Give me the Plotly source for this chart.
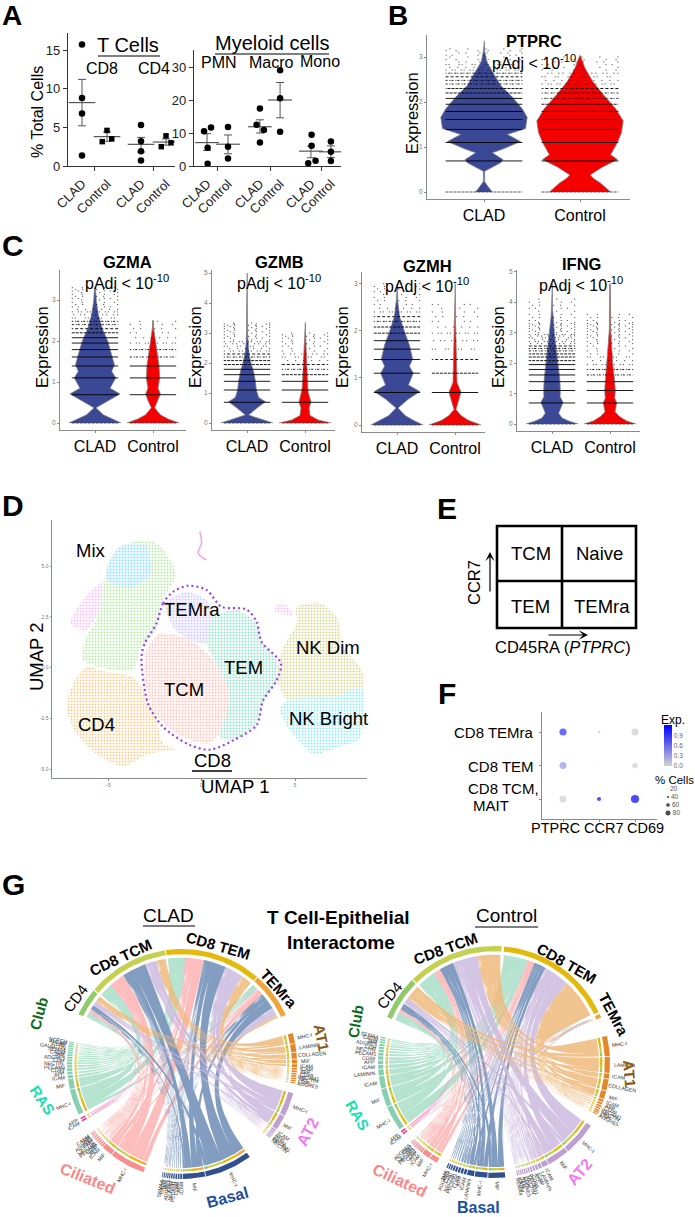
import math
import plotly.graph_objects as go

W, H = 695, 1217
FONT = "Liberation Sans"

# ---------- Panel A ----------
group_labels = ["CLAD", "Control"]
t_cd8_clad = [15.7, 8.8, 6.8, 1.35]
t_cd8_ctrl = [4.6, 3.15, 3.5]
t_cd4_clad = [5.3, 3.2, 1.9, 0.7]
t_cd4_ctrl = [3.9, 2.5, 3.0]
t_means = [8.2, 3.8, 2.8, 3.1]
t_low = [5.2, 3.2, 1.8, 2.7]
t_high = [11.2, 4.4, 3.7, 3.5]
pmn_clad = [10.5, 11.7, 5.5, 0.7]
pmn_ctrl = [11.8, 5.8, 2.3]
macro_clad = [17.4, 12.5, 10.9, 7.1]
macro_ctrl = [29.0, 20.5, 10.4]
mono_clad = [9.5, 6.1, 1.6, 0.8]
mono_ctrl = [7.4, 4.3, 1.5]
m_means = [7.1, 6.6, 11.9, 20.0, 4.5, 4.3]
m_low = [4.7, 3.7, 10.0, 14.6, 2.5, 2.6]
m_high = [9.8, 9.4, 14.0, 25.3, 6.0, 6.1]

# ---------- Violin profiles: expression, relative width ----------
ptprc_clad_y = [0, .12, .23, .33, .46, .65, .72, .87, .95, 1.12, 1.28, 1.41, 1.55, 1.66, 1.85, 2.11, 2.37, 2.67, 2.9, 3.12, 3.36]
ptprc_clad_w = [25, 12, 2, 1.5, 2, 50, 57, 25, 55, 110, 70, 125, 128, 130, 115, 85, 50, 25, 8, 2, 1]
ptprc_ctrl_y = [0, .2, .3, .38, .55, .72, .83, 1.1, 1.32, 1.58, 1.85, 2.15, 2.45, 2.75, 3.03]
ptprc_ctrl_w = [90, 60, 40, 30, 65, 110, 90, 110, 122, 127, 105, 70, 38, 15, 1]
gzma_clad_y = [0, .1, .2, .37, .57, .71, .85, 1.1, 1.26, 1.42, 1.67, 2.0, 2.3, 2.64, 2.97, 3.3]
gzma_clad_w = [78, 50, 25, 3, 45, 75, 45, 62, 50, 58, 50, 38, 22, 10, 4, 1.5]
gzma_ctrl_y = [0, .1, .2, .37, .55, .71, .85, 1.1, 1.4, 1.7, 2.0, 2.2, 2.3, 2.5]
gzma_ctrl_w = [78, 45, 22, 5, 15, 22, 15, 20, 18, 12, 6, 4, 2, 1]
gzmb_clad_y = [0, .1, .2, .27, .5, .71, .85, 1.1, 1.4, 1.7, 2.0, 2.3, 2.6, 3.0, 3.9, 5.0]
gzmb_clad_w = [78, 50, 22, 5, 30, 55, 35, 28, 25, 20, 12, 6, 3, 1.5, 1, .8]
gzmb_ctrl_y = [0, .1, .25, .5, .7, 1.0, 1.1, 1.5, 2.0, 2.5, 2.9, 3.35]
gzmb_ctrl_w = [78, 40, 15, 12, 18, 10, 9, 7, 5, 3, 2, 1]
gzmh_clad_y = [0, .1, .2, .36, .55, .71, .85, 1.1, 1.25, 1.4, 1.7, 2.0, 2.3, 2.65, 3.0]
gzmh_clad_w = [80, 50, 25, 3, 35, 70, 35, 50, 38, 48, 38, 22, 8, 2, 1]
gzmh_ctrl_y = [0, .1, .2, .33, .5, .7, .9, 1.1, 1.5, 2.0, 2.28, 3.0]
gzmh_ctrl_w = [78, 40, 18, 3, 10, 18, 6, 6, 4, 2.5, 1.5, .8]
ifng_clad_y = [0, .1, .2, .35, .5, .71, .9, 1.1, 1.5, 2.0, 2.5, 3.0, 3.5, 3.8, 4.6]
ifng_clad_w = [78, 50, 30, 20, 25, 33, 24, 25, 23, 18, 12, 7, 3, 1.5, 1]
ifng_ctrl_y = [0, .1, .25, .4, .7, .85, 1.1, 1.5, 2.0, 2.5, 3.1, 4.6]
ifng_ctrl_w = [78, 50, 28, 15, 20, 14, 16, 13, 8, 5, 2, 1]

# discrete expression values at which cells stack up
expression_levels = [.69, 1.10, 1.39, 1.61, 1.79, 1.95, 2.08, 2.20, 2.30, 2.40, 2.48, 2.56, 2.64, 2.71, 2.77,
                     2.83, 2.89, 2.94, 3.00, 3.04, 3.09, 3.14, 3.18, 3.22, 3.26, 3.30, 3.33, 3.40, 3.50,
                     3.60, 3.70, 3.80, 3.90, 4.00, 4.10]
# highest level that is drawn solid, dense, dashed, dotted, sparse
ptprc_clad_strip = (2.08, 2.30, 2.64, 2.83, 3.18)
ptprc_ctrl_strip = (1.79, 1.95, 2.30, 2.64, 3.00)
gzma_clad_strip = (2.08, 2.20, 2.48, 2.77, 3.30)
gzma_ctrl_strip = (1.39, 1.39, 1.79, 2.08, 2.48)
gzmb_clad_strip = (1.79, 2.08, 2.30, 2.71, 3.33)
gzmb_ctrl_strip = (1.39, 1.61, 1.95, 2.30, 3.00)
gzmh_clad_strip = (1.79, 2.08, 2.30, 2.48, 3.00)
gzmh_ctrl_strip = (.69, 1.10, 1.39, 2.08, 2.56)
ifng_clad_strip = (1.95, 2.30, 2.56, 2.94, 4.10)
ifng_ctrl_strip = (1.39, 1.39, 1.79, 2.20, 3.60)

# ---------- Panel D: cluster outlines in UMAP units ----------
cd4_u = [-7.23, -6.79, -6.16, -5.09, -3.66, -2.95, -2.41, -2.05, -1.34, -2.77, -4.2, -5.63, -6.7]
cd4_v = [-1.94, -.63, .03, -.21, -.46, -1.45, -2.43, -3.75, -4.0, -4.24, -4.87, -4.24, -3.26]
mix_u = [-3.66, -2.41, -1.34, -2.05, -2.41, -3.21, -3.66, -6.34, -6.16, -5.63, -5.27, -4.91]
mix_v = [6.2, 6.12, 4.64, 3.32, 1.84, 1.02, -.13, .36, 1.51, 2.34, 3.82, 5.3]
mixb_u = [-4.2, -2.95, -2.68, -3.84, -5.09, -4.73]
mixb_v = [6.04, 5.95, 4.64, 3.9, 4.39, 5.54]
mixp_u = [-7.02, -6.34, -5.27, -5.54, -6.16]
mixp_v = [2.17, 3.32, 4.23, 2.66, 1.84]
spur_u = [-.09, 0, -.18, .27]
spur_v = [6.7, 6.12, 5.63, 5.3]
nkp_u = [4.02, 4.55, 4.91, 3.93]
nkp_v = [3.08, 3.08, 2.58, 2.75]
tcm_u = [-2.23, -.63, .8, 1.52, .98, .27, -1.34, -2.59, -3.04, -2.95]
tcm_v = [1.68, 1.35, .2, -1.45, -3.26, -3.75, -3.26, -2.1, -.46, .86]
temra_u = [-1.96, -.79, .27, .63, .27, -.63, -1.52]
temra_v = [3.16, 3.73, 3.32, 2.5, 1.18, 1.35, 2.0]
tem_u = [.63, 1.88, 2.95, 3.3, 4.02, 4.02, 3.3, 2.95, 1.7, .98, 1.52, .8, .27]
tem_v = [2.5, 2.83, 2.17, 1.18, .36, -.63, -1.78, -2.76, -3.59, -3.42, -1.45, .2, 1.18]
nkd_u = [5.09, 6.34, 7.23, 7.59, 8.57, 8.57, 7.05, 4.55, 4.02, 4.38, 5.09]
nkd_v = [2.99, 3.19, 2.5, 1.02, -.13, -1.12, -1.45, -1.53, -.46, 1.02, 2.17]
nkb_u = [4.55, 7.05, 8.57, 8.66, 8.48, 7.41, 5.98, 4.73, 4.2]
nkb_v = [-1.61, -1.45, -.95, -1.94, -3.5, -3.91, -4.24, -3.09, -2.1]
cd8_u = [-2.41, -2.05, -1.52, -.71, .27, 1.07, 2.41, 2.95, 3.21, 4.25, 4.02, 3.3, 2.95, 1.7, .45, -.63, -2.05, -2.86, -3.21, -3.04, -2.41]
cd8_v = [2.17, 3.16, 3.73, 4.03, 3.82, 2.99, 2.86, 2.25, 1.27, .2, -.63, -1.61, -2.84, -3.59, -4.05, -3.82, -2.93, -1.78, .53, 1.18, 2.17]

# ---------- Panel F ----------
dot_genes = ["PTPRC", "CCR7", "CD69"]
dot_rows = ["TEMra", "TEM", "TCM"]
dot_exp = [[.95, .03, .03], [.35, 0, .02], [.02, 1.2, 1.2]]
dot_pct = [[72, 28, 72], [70, 10, 55], [70, 40, 82]]
legend_pct = [20, 40, 60, 80]

# ---------- Panel G ----------
small_pathways = ["ICAM", "APP", "CD99", "PECAM1", "NECTIN", "CDH", "ADGRE5", "JAM", "CADM", "SEMA4", "GALECTIN",
                  "CD86", "ALCAM", "NOTCH", "THBS"]
clad_at1_names = ["MHC-I", "LAMININ", "COLLAGEN", "MIF", "ICAM"]
clad_at1_sizes = [5.1, 4, 3, 2, 1.5, .9, .9, .8, .8, .7, .7, .6]
clad_at2_names = ["MHC-I", "MIF"]
clad_at2_sizes = [12, 7.5, .9, .8, .7, .6, .5]
clad_bas_names = ["MHC-I", "MIF"]
clad_bas_sizes = [24, 11.3, .9, .8, .8, .7, .7, .6, .6, .5, .5, .4]
clad_cil_names = ["MHC-I", "MIF"]
clad_cil_sizes = [18, 5.5, .9, .8, .7, .7, .6, .6, .5, .5, .4]
clad_oth_sizes = [.9, .8]
clad_ras_names = ["MHC-I", "MIF"]
clad_ras_sizes = [13, 5, 1.5, 1.4, 1.3, 1.2, 1.1, 1.0, .9, .9, .8, .8, .7, .7, .6, .5]
clad_cd4_flows = [3.5, 2.5, 3, 1.5, .2, 3]
clad_tcm_flows = [5, 6, 13, 8, .4, 7]
clad_tem_flows = [5.5, 10, 12, 9.5, .5, 9]
clad_tra_flows = [1.5, 4, 8.5, 3.5, .3, 3]

ctrl_at1_names = ["MHC-I", "LAMININ", "ICAM", "COLLAGEN", "MIF"]
ctrl_at1_sizes = [10, 8, 2.5, 5.5, 4, 1.2, 1, .9, .8, .7, .6, .5]
ctrl_at2_names = ["MHC-I", "MIF", "ICAM", "LAMININ"]
ctrl_at2_sizes = [17, 11, 3, 1.5, 1.2, 1, .9, .8, .7, .7, .6, .6, .5, .5]
ctrl_bas_names = ["MIF", "MHC-I", "LAMININ"]
ctrl_bas_sizes = [8.5, 6.3, 3.5, 1.3, 1.2, 1.1, 1, .9, .8, .7, .6]
ctrl_cil_names = ["MHC-I", "MIF"]
ctrl_cil_sizes = [4, 4.2, 1.1, .9, .8, .7, .6, .5, .4]
ctrl_oth_sizes = [.9, .9]
ctrl_ras_names = ["MHC-I", "MIF", "ICAM", "LAMININ"]
ctrl_ras_sizes = [12.5, 9, 6, 3, 2, 1.8, 1.6, 1.4, 1.2, 1.1, 1, .9, .8, .7]
ctrl_cd4_flows = [8, 3.5, 3.5, 1.5, .2, 4.5]
ctrl_tcm_flows = [11, 12, 7, 3, .3, 9]
ctrl_tem_flows = [21, 14, 6.5, 3.5, .3, 13]
ctrl_tra_flows = [.5, .3, .2, .1, .05, .2]

# ---------- figure helpers ----------
fig = go.Figure()
layout_axes = {}
ann = []
shapes = []
AX = "#8a8a8a"


def fx(x): return x / W
def fy(y): return 1 - y / H


def txt(x, y, s, size, color="black", bold=False, angle=0, anchor="center"):
    ann.append(dict(x=fx(x), y=fy(y), xref="paper", yref="paper", text=f"<b>{s}</b>" if bold else s,
                    showarrow=False, xanchor=anchor, yanchor="middle", textangle=angle,
                    font=dict(family=FONT, size=size, color=color)))


def line(x0, y0, x1, y1, width=1.2, color="black"):
    shapes.append(dict(type="line", xref="paper", yref="paper", x0=fx(x0), y0=fy(y0), x1=fx(x1), y1=fy(y1),
                       line=dict(width=width, color=color)))


def arrow(x0, y0, x1, y1):
    ann.append(dict(x=fx(x1), y=fy(y1), xref="paper", yref="paper", ax=x0 - x1, ay=y0 - y1, axref="pixel", ayref="pixel",
                    text="", showarrow=True, arrowhead=3, arrowsize=1.3, arrowwidth=1.2, arrowcolor="black"))


def make_axes(i, l, r, t, b, xa, ya, xopt=None, yopt=None):
    sx = (xa[3] - xa[1]) / (xa[2] - xa[0])
    sy = (ya[3] - ya[1]) / (ya[2] - ya[0])
    base = dict(showgrid=False, zeroline=False, showline=False, showticklabels=False, ticks="", fixedrange=True)
    xd = dict(base, domain=[fx(l), fx(r)], range=[xa[1] + (l - xa[0]) * sx, xa[1] + (r - xa[0]) * sx], anchor=f"y{i}")
    yd = dict(base, domain=[fy(b), fy(t)], range=[ya[1] + (b - ya[0]) * sy, ya[1] + (t - ya[0]) * sy], anchor=f"x{i}")
    xd.update(xopt or {})
    yd.update(yopt or {})
    layout_axes[f"xaxis{i}"] = xd
    layout_axes[f"yaxis{i}"] = yd
    return dict(xaxis=f"x{i}", yaxis=f"y{i}")


def axis_style(size, color="black", **kw):
    return dict(showline=True, linecolor=AX, linewidth=1, showticklabels=True,
                tickfont=dict(family=FONT, size=size, color=color), **kw)


# ---------- Panel A ----------
ab = dict(showline=True, linecolor="#333", linewidth=1.3, showticklabels=True, ticks="outside", tickcolor="#333", ticklen=4,
          tickfont=dict(family=FONT, size=13, color="#222"))
a1 = make_axes(2, 68, 175, 33, 166, (82, 0, 107, 1), (166, 0, 50, 15),
               dict(ab, tickvals=[0, 1, 2.36, 3.36], ticktext=group_labels * 2, tickangle=-45, tickcolor="rgba(0,0,0,0)",
                    minor=dict(tickvals=[.5, 2.86], ticklen=4, tickcolor="#333", ticks="outside")),
               dict(ab, tickvals=[0, 5, 10, 15]))
a2 = make_axes(3, 194, 341, 50, 166, (207, 0, 228, 1), (166, 0, 67, 30),
               dict(ab, tickvals=[0, 1, 2.52, 3.48, 4.95, 5.9], ticktext=group_labels * 3, tickangle=-45, tickcolor="rgba(0,0,0,0)",
                    minor=dict(tickvals=[.5, 3, 5.43], ticklen=4, tickcolor="#333", ticks="outside")),
               dict(ab, tickvals=[0, 10, 20, 30]))


def points(ax, xs, ys, sym):
    fig.add_trace(go.Scatter(x=xs, y=ys, mode="markers", marker=dict(color="black", size=6.5 if sym == "circle" else 5.5, symbol=sym),
                             showlegend=False, **ax))


def summary(ax, xs, means, low, high, w=19, color="#555"):
    fig.add_trace(go.Scatter(x=xs, y=means, mode="markers", marker=dict(symbol="line-ew", size=w, line=dict(width=1.2, color=color)),
                             error_y=dict(type="data", symmetric=False, array=[h - m for h, m in zip(high, means)],
                                          arrayminus=[m - l for l, m in zip(low, means)], color=color, width=4, thickness=1),
                             showlegend=False, **ax))


tx = [0, 1, 2.36, 3.36]
summary(a1, tx, t_means, t_low, t_high)
points(a1, [0, 0, 0, 0], t_cd8_clad, "circle")
points(a1, [1, .81, 1.19], t_cd8_ctrl, "square")
points(a1, [2.36] * 4, t_cd4_clad, "circle")
points(a1, [3.36, 3.17, 3.56], t_cd4_ctrl, "square")
mx = [0, 1, 2.52, 3.48, 4.95, 5.9]
summary(a2, mx, m_means, m_low, m_high, w=17)
points(a2, [-.14, .19, .03, .03], pmn_clad, "circle")
points(a2, [1, 1, 1], pmn_ctrl, "circle")
points(a2, [2.52, 2.36, 2.71, 2.52], macro_clad, "circle")
points(a2, [3.48, 3.48, 3.48], macro_ctrl, "circle")
points(a2, [4.98, 4.98, 5.17, 4.82], mono_clad, "circle")
points(a2, [5.9, 5.9, 5.9], mono_ctrl, "circle")

txt(128, 45, "T Cells", 20)
line(98, 56, 160, 56)
txt(102, 69, "CD8", 16)
txt(154, 69, "CD4", 16)
txt(272, 43, "Myeloid cells", 20)
line(215, 54, 329, 54)
txt(219, 63, "PMN", 16)
txt(271, 62, "Macro", 16)
txt(320, 61, "Mono", 16)
txt(38, 112, "% Total Cells", 16, angle=-90)


# ---------- Violins ----------
def violin_axes(i, l, r, t, b, c1, c2, y0, yp, yv, ticks):
    return make_axes(i, l, r, t, b, (c1, 1, c2, 2), (y0, 0, yp, yv),
                     dict(axis_style(16), tickvals=[1, 2], ticktext=group_labels, ticks="outside", ticklen=2, tickcolor=AX),
                     dict(axis_style(6.5, "#777"), tickvals=ticks, ticks="outside", ticklen=2, tickcolor=AX))


def violin(ax, c, ys, ws, color, strip):
    m = max(ws)
    half = [w / m * .45 for w in ws]
    fig.add_trace(go.Scatter(x=[c - h for h in half] + [c + h for h in reversed(half)], y=list(ys) + list(reversed(ys)),
                             mode="lines", fill="toself", fillcolor=color, showlegend=False,
                             line=dict(color="rgba(130,130,130,.75)", width=1), **ax))
    patterns = [["solid"], ["3px,1px"], ["2px,2px,1px,1px", "1px,2px,2px,1px", "3px,2px"],
                ["1px,3px,1px,6px", "1px,5px,1px,2px", "1px,7px", "1px,2px,1px,9px"],
                ["1px,13px,1px,6px", "1px,9px,1px,21px", "1px,17px", "1px,5px,1px,25px"]]
    idx = 0
    for lv in expression_levels:
        for k, lim in enumerate(strip):
            if lv <= lim:
                fig.add_trace(go.Scatter(x=[c - .4, c + .4] if idx % 2 else [c + .4, c - .4], y=[lv, lv], mode="lines", showlegend=False,
                                         line=dict(color="black", width=.9 if k < 3 else .8, dash=patterns[k][idx % len(patterns[k])]), **ax))
                idx += 1
                break
    fig.add_trace(go.Scatter(x=[c - .4, c + .4], y=[0, 0], mode="lines", showlegend=False,
                             line=dict(color="#444", width=.9, dash="3px,1px"), **ax))


BLUE, RED = "#3a4896", "#f40000"
vb = violin_axes(4, 427, 630, 35, 199, 484, 580, 192, 57, 3, [0, 1, 2, 3])
violin(vb, 1, ptprc_clad_y, ptprc_clad_w, BLUE, ptprc_clad_strip)
violin(vb, 2, ptprc_ctrl_y, ptprc_ctrl_w, RED, ptprc_ctrl_strip)
v1 = violin_axes(5, 60, 186, 270, 430, 95, 153, 423, 300, 3, [0, 1, 2, 3])
violin(v1, 1, gzma_clad_y, gzma_clad_w, BLUE, gzma_clad_strip)
violin(v1, 2, gzma_ctrl_y, gzma_ctrl_w, RED, gzma_ctrl_strip)
v2 = violin_axes(6, 212, 335, 270, 430, 247, 305, 423, 273, 5, [0, 1, 2, 3, 4, 5])
violin(v2, 1, gzmb_clad_y, gzmb_clad_w, BLUE, gzmb_clad_strip)
violin(v2, 2, gzmb_ctrl_y, gzmb_ctrl_w, RED, gzmb_ctrl_strip)
v3 = violin_axes(7, 362, 485, 272, 432, 397, 455, 425, 283.7, 3, [0, 1, 2, 3])
violin(v3, 1, gzmh_clad_y, gzmh_clad_w, BLUE, gzmh_clad_strip)
violin(v3, 2, gzmh_ctrl_y, gzmh_ctrl_w, RED, gzmh_ctrl_strip)
v4 = violin_axes(8, 517, 640, 270, 431, 552, 610, 424, 271.7, 5, [0, 1, 2, 3, 4, 5])
violin(v4, 1, ifng_clad_y, ifng_clad_w, BLUE, ifng_clad_strip)
violin(v4, 2, ifng_ctrl_y, ifng_ctrl_w, RED, ifng_ctrl_strip)

PADJ = "pAdj &lt; 10<sup>-10</sup>"
for gene, x, y1, y2, xl, yl in [("PTPRC", 534, 41, 62, 412, 113), ("GZMA", 127, 262, 282, 42, 347), ("GZMB", 279, 262, 282, 195, 347),
                                ("GZMH", 427, 266, 285, 342, 347), ("IFNG", 581, 264, 284, 498, 347)]:
    txt(x, y1, gene, 16.5, bold=True)
    txt(x, y2, PADJ, 16)
    txt(xl, yl, "Expression", 16.5, angle=-90)

# ---------- Panel D ----------
ud = make_axes(9, 52, 367, 520, 778, (108, -5, 295, 5), (769, -5, 566, 5),
               dict(axis_style(5, "#777"), tickvals=[-5, 0, 5], ticks="outside", ticklen=1.5, tickcolor=AX),
               dict(axis_style(5, "#777"), tickvals=[-5, -2.5, 0, 2.5, 5], ticktext=["-5.0", "-2.5", "0.0", "2.5", "5.0"],
                    ticks="outside", ticklen=1.5, tickcolor=AX))


def cluster(u, v, color, pale):
    fig.add_trace(go.Scatter(x=u + u[:1], y=v + v[:1], mode="lines", fill="toself", line=dict(width=0, shape="spline", smoothing=.7),
                             showlegend=False, fillcolor=pale,
                             fillpattern=dict(shape=".", size=3, solidity=.2, fgcolor=color, bgcolor=pale), **ud))


cluster(cd4_u, cd4_v, "#dd9a2e", "#fdf6ea")
cluster(mix_u, mix_v, "#6ec94e", "#f3fbf0")
cluster(mixp_u, mixp_v, "#ea7ee8", "#fdf3fd")
cluster(mixb_u, mixb_v, "#35bfe8", "#e4f6fc")
cluster(nkp_u, nkp_v, "#ea7ee8", "#fdf3fd")
cluster(tcm_u, tcm_v, "#f4837b", "#fef3f1")
cluster(temra_u, temra_v, "#a297f2", "#f3f1fd")
cluster(tem_u, tem_v, "#1fbd8d", "#ebf9f4")
cluster(nkd_u, nkd_v, "#a8a436", "#f9f9eb")
cluster(nkb_u, nkb_v, "#2fcfcf", "#ecfbfb")
fig.add_trace(go.Scatter(x=spur_u, y=spur_v, mode="lines", line=dict(color="#f3a6e8", width=1.6, shape="spline"), showlegend=False, **ud))
fig.add_trace(go.Scatter(x=cd8_u, y=cd8_v, mode="lines", showlegend=False,
                         line=dict(color="#9b40f0", width=2.2, dash="2px,3px", shape="spline", smoothing=.8), **ud))
for s, x, y in [("Mix", 91, 550), ("TEMra", 192, 609), ("TEM", 243, 667), ("TCM", 184, 689), ("CD4", 96, 725),
                ("NK Dim", 328, 647), ("NK Bright", 328, 718), ("CD8", 212, 761), ("UMAP 1", 235, 786)]:
    txt(x, y, s, 18.5)
line(192, 771, 232, 771, 1.3)
txt(36, 657, "UMAP 2", 18.5, angle=-90)

# ---------- Panel E ----------
shapes.append(dict(type="rect", xref="paper", yref="paper", x0=fx(497), x1=fx(636), y0=fy(628), y1=fy(526), line=dict(width=2.6, color="black")))
line(562, 526, 562, 628, 2.6)
line(497, 581, 636, 581, 2.6)
for s, x, y in [("TCM", 531, 553), ("Naive", 599, 553), ("TEM", 530, 606), ("TEMra", 602, 606)]:
    txt(x, y, s, 18.5)
txt(474, 582, "CCR7", 16.5, angle=-90)
arrow(490, 593, 490, 552)
arrow(547, 635, 588, 635)
txt(563, 647, "CD45RA (<i>PTPRC</i>)", 16.5)

# ---------- Panel F ----------
fa = make_axes(10, 541.5, 657, 712, 819, (563, 0, 635, 2), (732, 2, 799, 0),
               dict(showline=True, linecolor=AX, linewidth=1, tickvals=[0, 1, 2], ticks="outside", ticklen=2, tickcolor=AX),
               dict(showline=True, linecolor=AX, linewidth=1, ticks="outside", ticklen=2, tickcolor=AX, tickvals=[0, 1, 2]))
fxs, fys, fsz, fcol = [], [], [], []
for r, row in enumerate(dot_rows):
    for c in range(len(dot_genes)):
        fxs.append(c)
        fys.append(2 - r)
        fsz.append(dot_pct[r][c] / 10)
        fcol.append(dot_exp[r][c])
fig.add_trace(go.Scatter(x=fxs, y=fys, mode="markers", showlegend=False,
                         marker=dict(size=fsz, color=fcol, cmin=0, cmax=1.2, line=dict(width=0),
                                     colorscale=[[0, "#d3d3d3"], [1, "#0000ff"]],
                                     colorbar=dict(x=fx(664), xanchor="left", y=fy(745.5), yanchor="middle", len=41 / H, thickness=8,
                                                   xpad=0, ypad=0, outlinewidth=0, tickvals=[0, .3, .6, .9],
                                                   ticktext=["0.0", "0.3", "0.6", "0.9"], ticks="", tickfont=dict(family=FONT, size=6.5, color="#666"))),
                         **fa))
for s, x, y, a in [("CD8 TEMra", 536, 732, "right"), ("CD8 TEM", 536, 766, "right"), ("CD8 TCM,", 541, 788, "right"), ("MAIT", 471, 805, "left")]:
    txt(x, y, s, 15, anchor=a)
for s, x in zip(dot_genes, [555, 603, 645]):
    txt(x, 828, s, 14.5)
txt(673, 720, "Exp.", 12)
txt(674, 779.5, "% Cells", 11.5)
leg = make_axes(11, 660, 695, 785, 817, (668, 0, 688, 1), (789, 3, 813, 0))
fig.add_trace(go.Scatter(x=[0] * 4, y=[3, 2, 1, 0], mode="markers+text", showlegend=False, text=[str(p) for p in legend_pct], textposition="middle right",
                         textfont=dict(family=FONT, size=6.5, color="#555"), marker=dict(size=[p / 13 for p in legend_pct], color="black"), **leg))

# ---------- Panel G: chord diagrams ----------
RIBBON = ["rgba(238,184,122,.85)", "rgba(205,186,222,.85)", "rgba(118,146,186,.9)", "rgba(253,178,178,.85)", "rgba(245,140,190,.85)", "rgba(168,222,200,.85)"]
RING = ["#e5862a", "#bda0cf", "#31508f", "#f88f8f", "#ee3f95", "#86cfb0"]
SENDER = ["#92c96a", "#c3d050", "#e3b90c", "#eda53c"]
GAP = .4


def pol(a, r):
    t = math.radians(a)
    return r * math.sin(t), r * math.cos(t)


def arc(a0, a1, r):
    n = max(2, int(abs(a1 - a0) / 1.5) + 2)
    return [pol(a0 + (a1 - a0) * k / (n - 1), r) for k in range(n)]


def annulus(a0, a1, r0, r1):
    return arc(a0, a1, r1) + arc(a1, a0, r0)


def ribbon(a0, a1, b0, b1, ra, rb):
    pts = arc(a0, a1, ra)
    p, q = pol(a1, ra), pol(b0, rb)
    for k in range(1, 24):
        t = k / 24
        pts.append(((1 - t) ** 2 * p[0] + t ** 2 * q[0], (1 - t) ** 2 * p[1] + t ** 2 * q[1]))
    pts += arc(b0, b1, rb)
    p, q = pol(b1, rb), pol(a0, ra)
    for k in range(1, 24):
        t = k / 24
        pts.append(((1 - t) ** 2 * p[0] + t ** 2 * q[0], (1 - t) ** 2 * p[1] + t ** 2 * q[1]))
    return pts


def add_polys(ax, polys, color):
    xs, ys = [], []
    for poly in polys:
        xs += [p[0] for p in poly] + [poly[0][0], None]
        ys += [p[1] for p in poly] + [poly[0][1], None]
    fig.add_trace(go.Scatter(x=xs, y=ys, mode="lines", fill="toself", fillcolor=color, line=dict(width=0), showlegend=False, hoverinfo="skip", **ax))


def chord(i, cx, cy, R, sender_arcs, flows, groups):
    ext = 1.3
    ax = make_axes(i, cx - ext * R, cx + ext * R, cy - ext * R, cy + ext * R, (cx, 0, cx + R, 1), (cy, 0, cy - R, 1))
    segs = []
    for g, (start, names, sizes) in enumerate(groups):
        a = start
        ks = []
        used = 0
        for k, s in enumerate(sizes):
            if k < len(names):
                label = names[k]
            else:
                label = small_pathways[used % len(small_pathways)]
                used += 1
            ks.append((a, a + s, label))
            a += s + GAP
        segs.append(ks)
    # allot every sender arc among receivers
    sender_pos = {}
    for s, (a0, a1) in enumerate(sender_arcs):
        total = sum(flows[s])
        scale = (a1 - a0 - .6) / total
        a = a0 + .3
        for g in reversed(range(len(groups))):
            sizes = groups[g][2]
            for k in reversed(range(len(sizes))):
                w = flows[s][g] * scale * sizes[k] / sum(sizes)
                sender_pos[(s, g, k)] = (a, a + w)
                a += w
    ribbons = [[] for _ in groups]
    inner = [[] for _ in SENDER]
    rings = [[] for _ in groups]
    for g, ks in enumerate(segs):
        tot = sum(flows[s][g] for s in range(4))
        for k, (b0, b1, label) in enumerate(ks):
            b = b0
            for s in (3, 2, 1, 0):
                w = (b1 - b0) * flows[s][g] / tot
                a0, a1 = sender_pos[(s, g, k)]
                ribbons[g].append(ribbon(a0, a1, b, b + w, .925, .905))
                inner[s].append(annulus(b, b + w, .915, .935))
                b += w
            rings[g].append(annulus(b0, b1, .955, 1.0))
            mid = (b0 + b1) / 2
            rc = 1.035 + len(label) * 5.2 * .55 / 2 / R
            x, y = pol(mid, rc)
            angle = mid - 90 if mid < 180 else mid - 270
            ann.append(dict(x=x, y=y, xref=f"x{i}", yref=f"y{i}", text=label, showarrow=False, textangle=angle,
                            font=dict(family=FONT, size=5.2, color="#333")))
    for g in (5, 4, 3, 2, 1, 0):
        add_polys(ax, ribbons[g], RIBBON[g])
    for s in range(4):
        add_polys(ax, inner[s], SENDER[s])
        add_polys(ax, [annulus(sender_arcs[s][0], sender_arcs[s][1], .955, 1.0)], SENDER[s])
    for g in range(len(groups)):
        add_polys(ax, rings[g], RING[g])


chord(12, 182, 1064, 115, [(-64.3, -50.3), (-49.7, -8.5), (-8, 40.7), (41.2, 64.6)],
      [clad_cd4_flows, clad_tcm_flows, clad_tem_flows, clad_tra_flows],
      [(74.4, clad_at1_names, clad_at1_sizes), (104.7, clad_at2_names, clad_at2_sizes), (143.9, clad_bas_names, clad_bas_sizes),
       (199.6, clad_cil_names, clad_cil_sizes), (240, [], clad_oth_sizes), (244, clad_ras_names, clad_ras_sizes)])
chord(13, 494, 1062, 116, [(-67.2, -45.1), (-44.5, 3.8), (5, 64.4), (65.5, 67.5)],
      [ctrl_cd4_flows, ctrl_tcm_flows, ctrl_tem_flows, ctrl_tra_flows],
      [(77, ctrl_at1_names, ctrl_at1_sizes), (123.3, ctrl_at2_names, ctrl_at2_sizes), (174.4, ctrl_bas_names, ctrl_bas_sizes),
       (209.6, ctrl_cil_names, ctrl_cil_sizes), (231.3, [], ctrl_oth_sizes), (234.5, ctrl_ras_names, ctrl_ras_sizes)])

GREEN_D, TEAL, PINK, NAVY, MAG, BROWN = "#0a6a1a", "#14e0b0", "#f88888", "#1f4f9f", "#f07cf0", "#8a5a14"
for s, x, y, a, c, b, z in [
    ("CD4", 75, 998, -53, "black", False, 15), ("CD8 TCM", 120, 957, -25, "black", True, 15), ("CD8 TEM", 218, 946, 16, "black", True, 15),
    ("TEMra", 279, 988, 48, "black", True, 15), ("Club", 38, 1014, -75, GREEN_D, True, 15), ("RAS", 43, 1100, 55, TEAL, True, 15),
    ("Ciliated", 88, 1178, 22, PINK, True, 16), ("Basal", 227, 1197, -15, NAVY, True, 16), ("AT2", 307, 1132, -62, MAG, True, 16),
    ("AT1", 322, 1037, 78, BROWN, True, 15),
    ("CD4", 389, 995, -50, "black", False, 15), ("CD8 TCM", 445, 948, -20, "black", True, 15), ("CD8 TEM", 567, 963, 30, "black", True, 15),
    ("TEMra", 614, 1014, 62, "black", True, 15), ("Club", 355, 1022, -80, GREEN_D, True, 15), ("RAS", 358, 1115, 60, TEAL, True, 15),
    ("Ciliated", 400, 1180, 25, PINK, True, 16), ("Basal", 478, 1207, 0, NAVY, True, 16), ("AT2", 579, 1172, -50, MAG, True, 16),
    ("AT1", 630, 1073, 85, BROWN, True, 15)]:
    txt(x, y, s, z, c, b, a)
txt(168, 916, "CLAD", 19)
line(143, 926, 195, 926)
txt(507, 915, "Control", 19)
line(475, 927, 538, 927)
txt(338, 917, "T Cell-Epithelial", 19, bold=True)
txt(341, 942, "Interactome", 19, bold=True)

# panel letters
for s, x, y in [("A", 12, 15.5), ("B", 398, 15.5), ("C", 13, 245), ("D", 13, 505), ("E", 447, 509), ("F", 447, 693), ("G", 13, 884)]:
    txt(x, y, s, 28 if y < 20 else 30, bold=True)

fig.update_layout(width=W, height=H, margin=dict(l=0, r=0, t=0, b=0, autoexpand=False), paper_bgcolor="white", plot_bgcolor="rgba(0,0,0,0)",
                  showlegend=False, annotations=ann, shapes=shapes, **layout_axes)
fig.write_html("out.html", config=dict(displayModeBar=False),
               post_script="document.body.style.margin='0';document.documentElement.style.overflow='hidden';")
